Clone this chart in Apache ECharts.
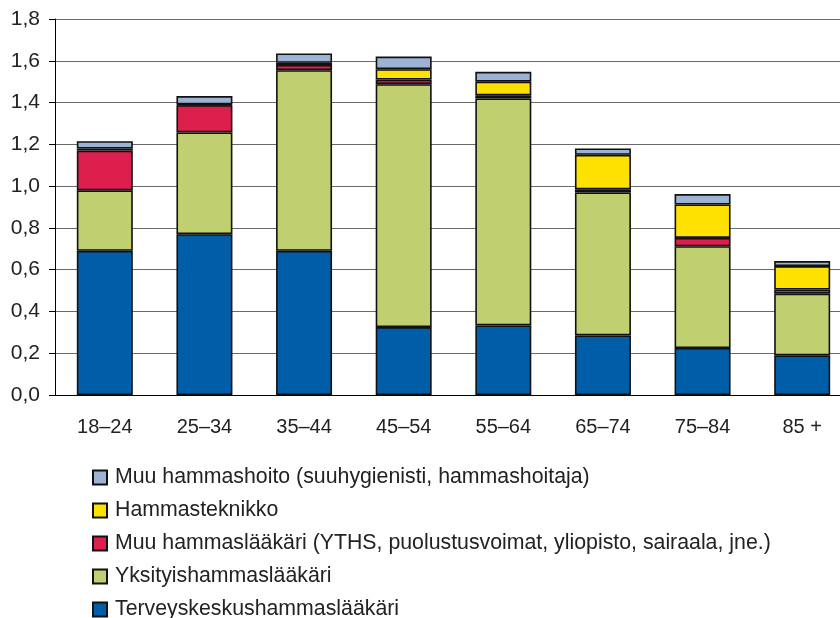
<!DOCTYPE html>
<html>
<head>
<meta charset="utf-8">
<script src="https://cdn.jsdelivr.net/npm/echarts@6/dist/echarts.min.js"></script>
<style>
  html, body { margin: 0; padding: 0; background: #fff; }
  #chart { width: 840px; height: 618px; }
</style>
</head>
<body>
<div id="chart"></div>
<script>
// ikäryhmät
const categories = ['18–24', '25–34', '35–44', '45–54', '55–64', '65–74', '75–84', '85 +'];
const yTicks = [0, 0.2, 0.4, 0.6, 0.8, 1.0, 1.2, 1.4, 1.6, 1.8];

// käynnit per asukas, pinottuna alhaalta ylös
const terveyskeskus = [0.69, 0.77, 0.69, 0.325, 0.333, 0.285, 0.225, 0.19];
const yksityis      = [0.29, 0.487, 0.865, 1.163, 1.087, 0.685, 0.487, 0.295];
const muuLaakari    = [0.19, 0.13, 0.025, 0.022, 0.015, 0.015, 0.04, 0.02];
const teknikko      = [0.01, 0.004, 0.01, 0.05, 0.065, 0.165, 0.16, 0.112];
const muuHoito      = [0.035, 0.04, 0.045, 0.06, 0.047, 0.03, 0.05, 0.024];

const names = [
  'Terveyskeskushammaslääkäri',
  'Yksityishammaslääkäri',
  'Muu hammaslääkäri (YTHS, puolustusvoimat, yliopisto, sairaala, jne.)',
  'Hammasteknikko',
  'Muu hammashoito (suuhygienisti, hammashoitaja)'
];
const colors = ['#005ea8', '#c0d070', '#dc1f4c', '#ffe100', '#9db3d3'];
const values = [terveyskeskus, yksityis, muuLaakari, teknikko, muuHoito];

const font = 'Liberation Sans, Arial, sans-serif';
const chart = echarts.init(document.getElementById('chart'));

chart.setOption({
  animation: false,
  grid: { left: 55, top: 19, bottom: 223, right: -12, containLabel: false, outerBoundsMode: 'none' },
  legend: {
    orient: 'vertical',
    left: 92,
    top: 467,
    height: 170,
    padding: 0,
    itemWidth: 14,
    itemHeight: 14,
    itemGap: 12,
    icon: 'rect',
    data: names.slice().reverse(),
    textStyle: { fontFamily: font, fontSize: 21.3, color: '#222', padding: [0, 0, 0, 3] }
  },
  xAxis: {
    type: 'category',
    data: categories,
    axisLine: { lineStyle: { color: '#000', width: 1 } },
    axisTick: { show: false },
    axisLabel: { fontFamily: font, fontSize: 20, color: '#222', margin: 22 }
  },
  yAxis: {
    type: 'value',
    min: 0,
    max: 1.8,
    interval: 0.2,
    axisLine: { show: true, lineStyle: { color: '#000', width: 1 } },
    axisTick: { show: true, length: 6, lineStyle: { color: '#000' } },
    splitLine: { lineStyle: { color: '#6a6a6a', width: 1 } },
    axisLabel: {
      fontFamily: font, fontSize: 21, color: '#222', margin: 15,
      formatter: v => yTicks.includes(Math.round(v * 10) / 10) ? v.toFixed(1).replace('.', ',') : ''
    }
  },
  series: names.map((n, i) => ({
    name: n,
    type: 'bar',
    stack: 'total',
    barWidth: 56,
    data: values[i],
    itemStyle: { color: colors[i], borderColor: '#111', borderWidth: 1.6 }
  }))
});
</script>
</body>
</html>
